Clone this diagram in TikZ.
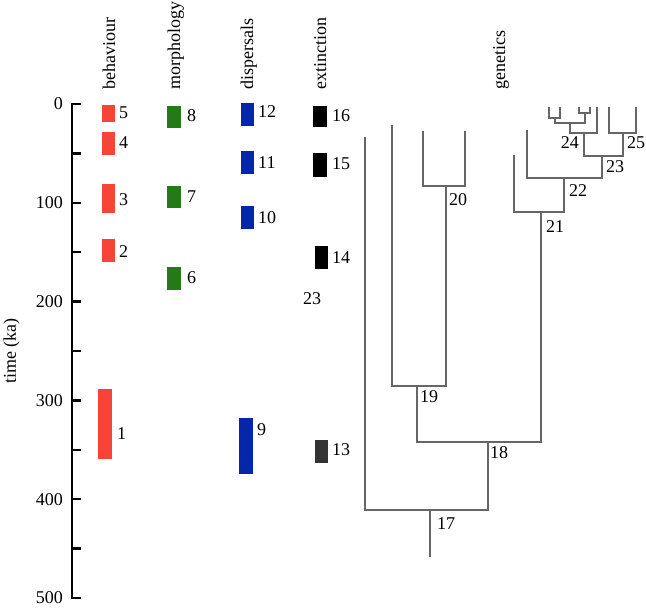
\documentclass[tikz,border=0pt]{standalone}
\usepackage{fontspec}
\setmainfont{Liberation Serif}
\definecolor{barred}{RGB}{246,68,56}
\definecolor{bargreen}{RGB}{36,122,22}
\definecolor{barblue}{RGB}{4,38,170}
\definecolor{bardark}{RGB}{51,51,51}
\definecolor{treegray}{RGB}{102,102,102}
\tikzset{
  axisline/.style={line width=2.4pt, black},
  treeline/.style={draw=treegray, line width=1.4pt},
  lab/.style={anchor=west},
  head/.style={rotate=90, anchor=base west},
  ticklab/.style={anchor=east}
}
\begin{document}
\begin{tikzpicture}[x=1pt,y=-1pt, every node/.style={inner sep=0pt, font=\fontsize{18}{20}\selectfont}]
\useasboundingbox (0,0) rectangle (646,608);

% headers
\node[head] (hb) at (115,90) {behaviour};
\node[head] (hm) at (180,90) {morphology};
\node[head] (hd) at (253,90) {dispersals};
\node[head] (he) at (326,90) {extinction};
\node[head] (hg) at (505,90) {genetics};

% axis
\draw[axisline] (81,104) -- (72,104) -- (72,598) -- (81,598);
\foreach \t in {50,100,...,450} \draw[axisline] (72,{104+0.988*\t}) -- (81,{104+0.988*\t});
\foreach \t in {0,100,...,500} \node[ticklab] (tl\t) at (63,{104+0.988*\t}) {\t};
\node[rotate=90, anchor=base] (ylab) at (16,351) {time (ka)};

% bars
\fill[barred] (102,105) rectangle (115,122);
\fill[barred] (102,132) rectangle (115,155);
\fill[barred] (102,184) rectangle (115,213);
\fill[barred] (102,239) rectangle (115,262);
\fill[barred] (98,389) rectangle (112,459);
\fill[bargreen] (167,106) rectangle (181,128);
\fill[bargreen] (167,186) rectangle (181,208);
\fill[bargreen] (167,267) rectangle (181,290);
\fill[barblue] (241,103) rectangle (254,126);
\fill[barblue] (241,151) rectangle (254,174);
\fill[barblue] (241,206) rectangle (254,229);
\fill[barblue] (239,418) rectangle (253,474);
\fill[black] (313,106) rectangle (327,127);
\fill[black] (313,153) rectangle (327,177);
\fill[black] (315,246) rectangle (328,269);
\fill[bardark] (315,440) rectangle (328,463);

% bar labels
\node[lab] (l5) at (119,113) {5};
\node[lab] (l4) at (119,143) {4};
\node[lab] (l3) at (119,200) {3};
\node[lab] (l2) at (119,252) {2};
\node[lab] (l1) at (117,434) {1};
\node[lab] (l8) at (187,116) {8};
\node[lab] (l7) at (187,197) {7};
\node[lab] (l6) at (187,278) {6};
\node[lab] (l12) at (258,112) {12};
\node[lab] (l11) at (258,163) {11};
\node[lab] (l10) at (258,218) {10};
\node[lab] (l9) at (257,430) {9};
\node[lab] (l16) at (332,116) {16};
\node[lab] (l15) at (332,164) {15};
\node[lab] (l14) at (332,258) {14};
\node[lab] (l13) at (332,450) {13};
\node (stray) at (312,299) {23};

% tree coordinates
\coordinate (root) at (430,557);
\coordinate (n17) at (430,510);
\coordinate (n18) at (488,442);
\coordinate (n19) at (417,386);
\coordinate (n20) at (446,186);
\coordinate (n21) at (541,212);
\coordinate (n22) at (564,178);
\coordinate (n23) at (602,156);
\coordinate (n24) at (584,133);
\coordinate (nA) at (570,123);
\coordinate (nB) at (555,118);
\coordinate (nC) at (585,113);
\coordinate (n25) at (623,133);
\coordinate (t1) at (365,137);
\coordinate (t2) at (392,125);
\coordinate (t3) at (423,131);
\coordinate (t4) at (465,131);
\coordinate (t5) at (514,155);
\coordinate (t6) at (527,130);
\coordinate (a1) at (549,107);
\coordinate (a2) at (560,107);
\coordinate (b1) at (579,107);
\coordinate (b2) at (590,107);
\coordinate (tc) at (597,107);
\coordinate (d1) at (609,107);
\coordinate (d2) at (636,107);

% tree
\draw[treeline] (n17) -- (root);
\draw[treeline] (t1) |- (n17) -| (n18);
\draw[treeline] (n19) |- (n18) -| (n21);
\draw[treeline] (t2) |- (n19) -| (n20);
\draw[treeline] (t3) |- (n20) -| (t4);
\draw[treeline] (t5) |- (n21) -| (n22);
\draw[treeline] (t6) |- (n22) -| (n23);
\draw[treeline] (n24) |- (n23) -| (n25);
\draw[treeline] (nA) |- (n24) -| (tc);
\draw[treeline] (nB) |- (nA) -| (nC);
\draw[treeline] (a1) |- (nB) -| (a2);
\draw[treeline] (b1) |- (nC) -| (b2);
\draw[treeline] (d1) |- (n25) -| (d2);

% tree labels
\node[lab] (g17) at (437,524) {17};
\node[lab] (g18) at (490,453) {18};
\node[lab] (g19) at (420,397) {19};
\node[lab] (g20) at (449,200) {20};
\node[lab] (g21) at (546,227) {21};
\node[lab] (g22) at (569,191) {22};
\node[lab] (g23) at (606,167) {23};
\node[anchor=east] (g24) at (579,143) {24};
\node[lab] (g25) at (627,143) {25};
\end{tikzpicture}
\end{document}
